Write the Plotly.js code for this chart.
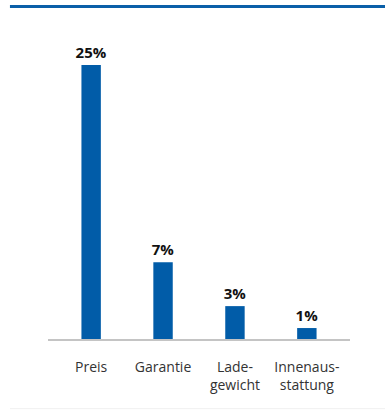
<!DOCTYPE html>
<html><head><meta charset="utf-8">
<script src="https://cdn.plot.ly/plotly-3.0.1.min.js"></script>
<style>html,body{margin:0;padding:0;background:#fff}#c{width:385px;height:412px}</style>
</head><body><div id="c"></div>
<script>
const categories = ["Preis", "Garantie", "Lade-<br>gewicht", "Innenaus-<br>stattung"];
const values = [25, 7, 3, 1];
const labels = ["25%", "7%", "3%", "1%"];

Plotly.newPlot("c", [{
  type: "bar",
  x: categories,
  y: values,
  text: labels,
  textposition: "outside",
  constraintext: "none",
  cliponaxis: false,
  textfont: {family: "Open Sans, sans-serif", size: 15, color: "#111", weight: 700},
  marker: {color: "#015ca8"},
  width: 0.27,
  hoverinfo: "none"
}], {
  width: 385, height: 412,
  margin: {l: 48, r: 35, t: 40, b: 73},
  paper_bgcolor: "#fff", plot_bgcolor: "#fff",
  showlegend: false,
  font: {family: "Open Sans, sans-serif"},
  xaxis: {
    range: [-0.6, 3.6], showgrid: false, zeroline: false,
    showline: true, linecolor: "#c4c4c4", linewidth: 2,
    ticks: "outside", ticklen: 14, tickcolor: "rgba(0,0,0,0)",
    tickfont: {size: 14, color: "#333"}, fixedrange: true
  },
  yaxis: {range: [0, 27.28], visible: false, fixedrange: true},
  shapes: [
    {type: "line", xref: "paper", yref: "paper", x0: -0.126, x1: 1.12, y0: 1.112, y1: 1.112,
     line: {color: "#0a5fa8", width: 3}},
    {type: "line", xref: "paper", yref: "paper", x0: -0.126, x1: 1.12, y0: -0.233, y1: -0.233,
     line: {color: "#f0f0f0", width: 1}}
  ]
}, {displayModeBar: false, staticPlot: true});
</script></body></html>
